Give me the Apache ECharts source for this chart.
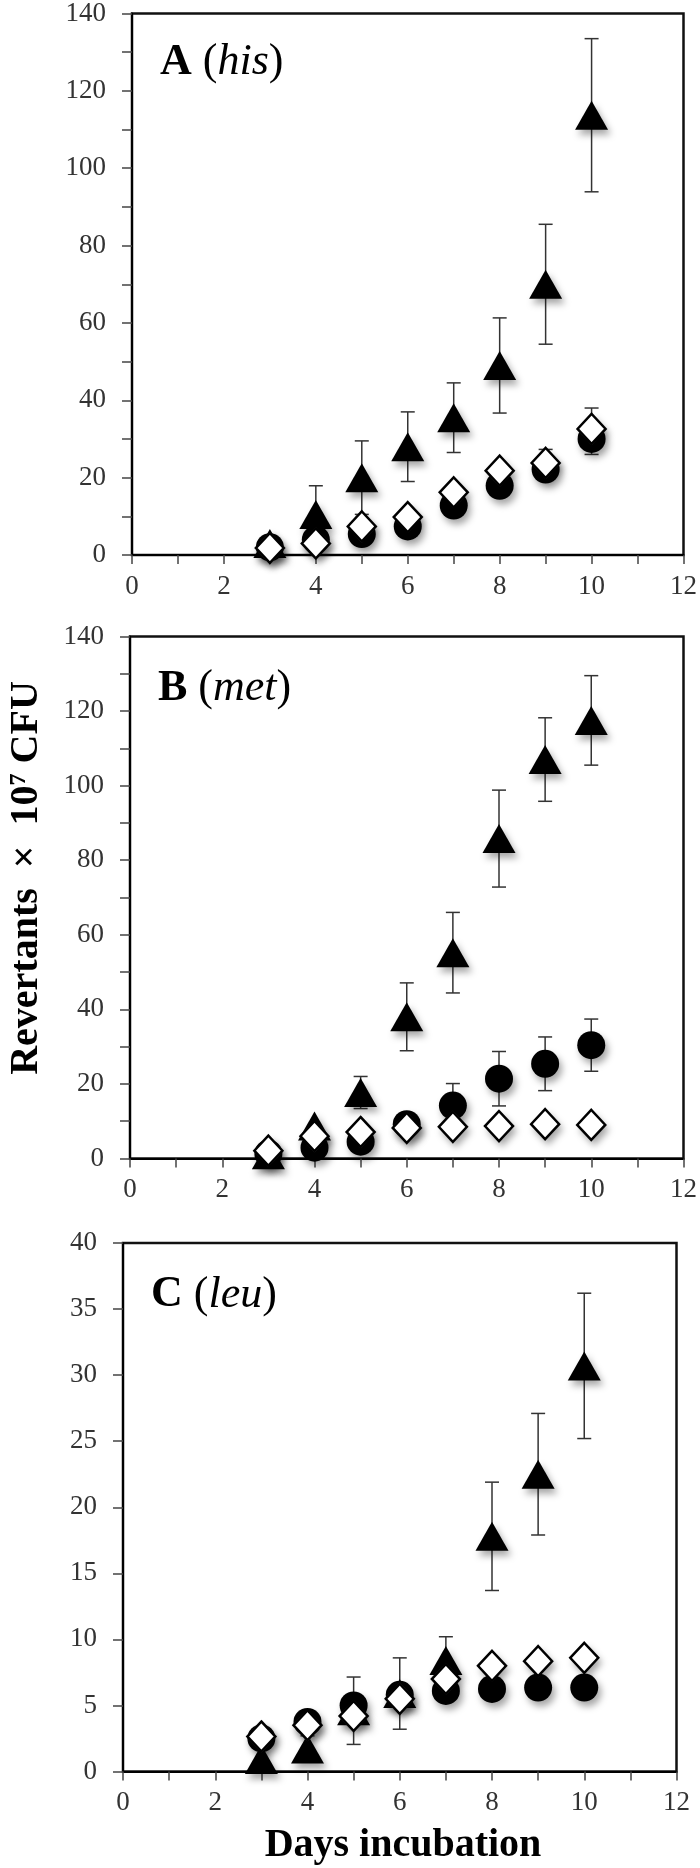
<!DOCTYPE html>
<html>
<head>
<meta charset="utf-8">
<script src="https://cdn.jsdelivr.net/npm/echarts@6/dist/echarts.min.js"></script>
<style>
html,body{margin:0;padding:0;background:#fff;}
#chart{width:700px;height:1868px;}
</style>
</head>
<body>
<div id="chart"></div>
<script>
// ---- data ----
const days = [3, 4, 5, 6, 7, 8, 9, 10];
const xTicks = [0, 2, 4, 6, 8, 10, 12];

// Panel A (his)
const triA = [3, 10.5, 20, 28, 35.5, 49, 70, 113.7];
const triAErr = [2, 7.4, 9.5, 9, 9, 12.3, 15.5, 19.8];
const circA = [2, 4, 5.4, 7.4, 12.8, 17.9, 22.1, 30];
const circAErr = [0, 0, 0, 0, 0, 0, 0, 4];
const diaA = [1.8, 3, 7.4, 9.8, 16.2, 21.8, 23.8, 32.6];
const diaAErr = [0, 0, 0, 0, 0, 0, 3.5, 5.4];

// Panel B (met)
const triB = [1, 8.7, 17.7, 38, 55.2, 85.8, 107, 117.5];
const triBErr = [0, 0, 4.3, 9.1, 10.8, 13, 11.2, 12];
const circB = [1.3, 2.9, 4.5, 9.2, 14.2, 21.4, 25.4, 30.4];
const circBErr = [0, 0, 0, 0, 5.9, 7.3, 7.2, 7];
const diaB = [2.1, 6, 7.1, 8.2, 8.5, 8.7, 9.2, 9];
const diaBErr = [0, 0, 0, 0, 0, 0, 0, 0];

// Panel C (leu)
const triC = [0.9, 1.7, 4.6, 5.9, 8.4, 17.8, 22.5, 30.7];
const triCErr = [0, 1.0, 2.55, 2.7, 1.8, 4.1, 4.6, 5.5];
const circC = [2.5, 3.75, 5, 5.8, 6.1, 6.25, 6.35, 6.35];
const circCErr = [0, 0, 0, 0, 0, 0, 0, 0];
const diaC = [2.65, 3.5, 4.2, 5.5, 7, 8, 8.35, 8.6];
const diaCErr = [0, 0, 0, 0, 0, 0, 0, 0];

const yMaxA = 140, yMaxB = 140, yMaxC = 40;
const yStepA = 10, yStepB = 10, yStepC = 5;
const yLabelStepA = 20, yLabelStepB = 20, yLabelStepC = 5;

// ---- build ----
const serif = '"Liberation Serif","Times New Roman",serif';
const panels = [
  {tri: triA, triE: triAErr, circ: circA, circE: circAErr, dia: diaA, diaE: diaAErr,
   max: yMaxA, step: yStepA, lstep: yLabelStepA,
   grid: {left: 132, right: 16, top: 10.5, height: 544.5}, letter: 'A', gene: 'his'},
  {tri: triB, triE: triBErr, circ: circB, circE: circBErr, dia: diaB, diaE: diaBErr,
   max: yMaxB, step: yStepB, lstep: yLabelStepB,
   grid: {left: 130, right: 14, top: 636.5, height: 522}, letter: 'B', gene: 'met'},
  {tri: triC, triE: triCErr, circ: circC, circE: circCErr, dia: diaC, diaE: diaCErr,
   max: yMaxC, step: yStepC, lstep: yLabelStepC,
   grid: {left: 123, right: 23.5, top: 1243, height: 528.5}, letter: 'C', gene: 'leu'}
];

const shadow = {shadowBlur: 7, shadowColor: 'rgba(0,0,0,0.35)', shadowOffsetX: 3, shadowOffsetY: 5};
const noShadow = {shadowBlur: 0, shadowColor: 'rgba(0,0,0,0)', shadowOffsetX: 0, shadowOffsetY: 0};

function errRender(params, api) {
  const x = api.value(0), y = api.value(1), e = api.value(2);
  const t = api.coord([x, y + e]);
  const b = api.coord([x, y - e]);
  const w = 7;
  const st = {stroke: '#333', lineWidth: 1.5};
  return {type: 'group', children: [
    {type: 'line', shape: {x1: t[0], y1: t[1], x2: b[0], y2: b[1]}, style: st},
    {type: 'line', shape: {x1: t[0] - w, y1: t[1], x2: t[0] + w, y2: t[1]}, style: st},
    {type: 'line', shape: {x1: b[0] - w, y1: b[1], x2: b[0] + w, y2: b[1]}, style: st}
  ]};
}

const grids = [], xAxes = [], yAxes = [], series = [], graphics = [];
panels.forEach((p, i) => {
  grids.push(Object.assign({show: true, borderColor: '#111', borderWidth: 2.5, backgroundColor: '#fff'}, p.grid));
  xAxes.push({
    type: 'value', gridIndex: i, min: 0, max: 12, interval: 1,
    axisLine: {show: true, onZero: false, lineStyle: {color: '#000', width: 2}},
    axisTick: {show: true, inside: false, length: 9, lineStyle: {color: '#444', width: 1.5}},
    splitLine: {show: false},
    axisLabel: {margin: 18, fontFamily: serif, fontSize: 27, color: '#333',
      formatter: v => xTicks.indexOf(v) >= 0 ? String(v) : ''}
  });
  yAxes.push({
    type: 'value', gridIndex: i, min: 0, max: p.max, interval: p.step,
    axisLine: {show: true, onZero: false, lineStyle: {color: '#000', width: 2}},
    axisTick: {show: true, inside: false, length: 10, lineStyle: {color: '#444', width: 1.5}},
    splitLine: {show: false},
    axisLabel: {margin: 26, fontFamily: serif, fontSize: 27, color: '#333',
      formatter: v => (v % p.lstep === 0) ? String(v) : ''}
  });
  const errData = [];
  [[p.tri, p.triE], [p.circ, p.circE], [p.dia, p.diaE]].forEach(([vals, errs]) => {
    days.forEach((d, k) => { if (errs[k] > 0) errData.push([d, vals[k], errs[k]]); });
  });
  const diaData = days.map((d, k) => [d, p.dia[k]]);
  series.push({type: 'custom', xAxisIndex: i, yAxisIndex: i, renderItem: errRender, data: errData, z: 1, silent: true});
  series.push({type: 'scatter', xAxisIndex: i, yAxisIndex: i, symbol: 'triangle', symbolSize: [33, 29],
    data: days.map((d, k) => [d, p.tri[k]]), z: 2,
    itemStyle: Object.assign({color: '#000', opacity: 1}, shadow)});
  series.push({type: 'scatter', xAxisIndex: i, yAxisIndex: i, symbol: 'circle', symbolSize: 28,
    data: days.map((d, k) => [d, p.circ[k]]), z: 3,
    itemStyle: Object.assign({color: '#000', opacity: 1}, shadow)});
  // diamond shadow layer
  series.push({type: 'scatter', xAxisIndex: i, yAxisIndex: i, symbol: 'diamond', symbolSize: [30, 32],
    data: diaData, z: 4, silent: true,
    itemStyle: Object.assign({color: '#fff', borderWidth: 0, opacity: 1}, shadow)});
  // diamond outline layer
  series.push({type: 'scatter', xAxisIndex: i, yAxisIndex: i, symbol: 'diamond', symbolSize: [28, 30],
    data: diaData, z: 5,
    itemStyle: Object.assign({color: '#fff', borderColor: '#000', borderWidth: 2.5, opacity: 1}, noShadow)});
  graphics.push({
    type: 'text', left: p.grid.left + 28, top: p.grid.top + 30, z: 100,
    style: {
      text: '{b|' + p.letter + ' }{n|(}{i|' + p.gene + '}{n|)}',
      rich: {
        b: {fontFamily: serif, fontWeight: 'bold', fontSize: 44, fill: '#000'},
        n: {fontFamily: serif, fontSize: 44, fill: '#000'},
        i: {fontFamily: serif, fontStyle: 'italic', fontSize: 44, fill: '#000'}
      }
    }
  });
});

graphics.push({
  type: 'text', x: 27, y: 878, rotation: Math.PI / 2, z: 100,
  style: {
    text: '{t|Revertants  ×  10}{s|7}{t| CFU}',
    align: 'center', verticalAlign: 'middle',
    rich: {
      t: {fontFamily: serif, fontWeight: 'bold', fontSize: 40, fill: '#000'},
      s: {fontFamily: serif, fontWeight: 'bold', fontSize: 24, fill: '#000', verticalAlign: 'top', padding: [0, 0, 16, 0]}
    }
  }
});
graphics.push({
  type: 'text', x: 403, y: 1846, z: 100,
  style: {text: 'Days incubation', align: 'center', verticalAlign: 'middle',
    fontFamily: serif, fontWeight: 'bold', fontSize: 40, fill: '#000'}
});

const chart = echarts.init(document.getElementById('chart'), null, {renderer: 'canvas'});
chart.setOption({
  animation: false,
  backgroundColor: '#fff',
  grid: grids, xAxis: xAxes, yAxis: yAxes, series: series, graphic: graphics
});
</script>
</body>
</html>
